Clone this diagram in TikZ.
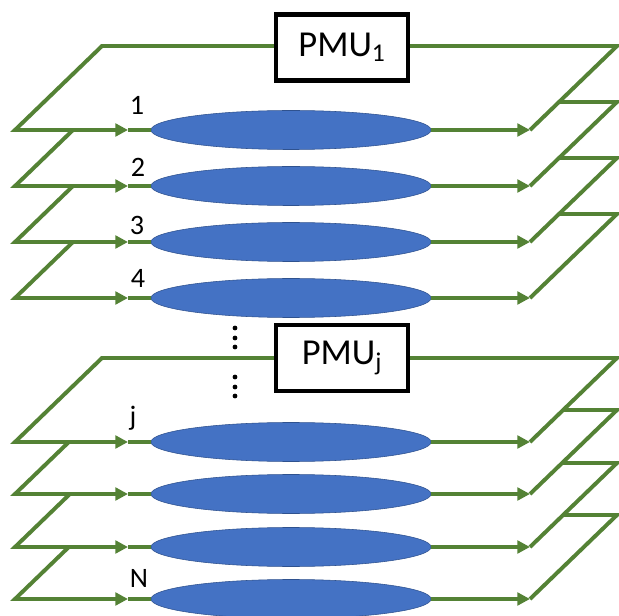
\documentclass[tikz,border=0pt]{standalone}
\usepackage{fontspec}
\setmainfont{Carlito}
\usetikzlibrary{arrows.meta,shapes.geometric}
\definecolor{wiregreen}{RGB}{84,130,53}
\definecolor{diskblue}{RGB}{68,114,196}
\definecolor{diskedge}{RGB}{47,82,143}

\begin{document}
\begin{tikzpicture}[x=0.025cm,y=-0.025cm,
    wire/.style={draw=wiregreen,line width=2.8pt},
    tip/.style={-{Triangle[length=9pt,width=9pt]}},
    disk/.style={ellipse,draw=diskedge,thin,fill=diskblue,minimum width=7cm,minimum height=0.975cm,inner sep=0pt},
    pmu/.style={draw=black,line width=3.5pt,fill=white,minimum width=3.3cm,minimum height=1.65cm,font=\fontsize{26}{30}\selectfont},
    lab/.style={anchor=base,font=\fontsize{20}{24}\selectfont}]
  \useasboundingbox (0,0) rectangle (619,616);
  % planes, lowest first so that the upper ones hide the lower ones
  \foreach \n/\y in {N/599,j2/547,j1/494,j/442,4/298,3/242,2/186,1/130}{
    \coordinate (a\n) at (15,\y);
    \coordinate (b\n) at (530,\y);
    \coordinate (c\n) at (617,\y-84);
    \coordinate (d\n) at (102,\y-84);
    \coordinate (m\n) at (128,\y);
    \fill[white] (a\n) -- (b\n) -- (c\n) -- (d\n) -- cycle;
    \node[disk] (e\n) at (291,\y) {};
    \draw[wire] (m\n) -- (e\n.west);
    \draw[wire,tip] (e\n.east) -- (b\n);
    \draw[wire,tip] (b\n) -- (c\n) -- (d\n) -- (a\n) -- (m\n);
  }
  \node[pmu] (pmu1) at (342,47.5) {PMU\textsubscript{1}};
  \node[pmu] (pmuj) at (342,358) {PMU\textsubscript{j}};
  \foreach \y in {328,338,347,377,387,396}
    \fill (235,\y) circle (2.4);
  \node[lab] (t1) at (137,115) {1};
  \node[lab] (t2) at (138,177) {2};
  \node[lab] (t3) at (137,235) {3};
  \node[lab] (t4) at (138,288) {4};
  \node[lab] (tj) at (133,426) {j};
  \node[lab] (tN) at (139,587) {N};
\end{tikzpicture}
\end{document}
